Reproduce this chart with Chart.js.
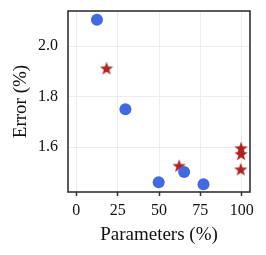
<!DOCTYPE html>
<html>
<head>
<meta charset="utf-8">
<script src="https://cdn.jsdelivr.net/npm/chart.js@4"></script>
<style>
  html, body { margin: 0; padding: 0; background: #fff; }
</style>
</head>
<body>
<canvas id="chart" width="266" height="255"></canvas>
<script>
// values
const circleParams = [12.5, 29.7, 49.8, 65.2, 76.9];
const circleError = [2.104, 1.750, 1.461, 1.501, 1.453];
const starParams = [18.3, 62.2, 99.6, 99.6, 99.4];
const starError = [1.912, 1.526, 1.596, 1.573, 1.512];
const xTicks = [0, 25, 50, 75, 100];
const yTicks = [1.6, 1.8, 2.0];

const toPoints = (xs, ys) => xs.map((x, i) => ({ x: x, y: ys[i] }));

// filled five-point star, chart.js has no such pointStyle
const makeStar = (size, color) => {
    const c = document.createElement('canvas');
    c.width = size;
    c.height = size;
    const g = c.getContext('2d');
    const r = size / 2, ri = r * 0.42;
    g.beginPath();
    for (let i = 0; i < 10; i++) {
        const a = -Math.PI / 2 + i * Math.PI / 5;
        const rr = i % 2 === 0 ? r : ri;
        g.lineTo(r + rr * Math.cos(a), r + 0.6 + rr * Math.sin(a));
    }
    g.closePath();
    g.fillStyle = color;
    g.fill();
    return c;
};

const frame = {
    id: 'frame',
    afterDraw(chart) {
        const a = chart.chartArea, ctx = chart.ctx;
        ctx.save();
        ctx.strokeStyle = '#333';
        ctx.lineWidth = 1.6;
        ctx.strokeRect(a.left, a.top, a.right - a.left, a.bottom - a.top);
        ctx.restore();
    }
};

const font = 'Liberation Serif';

new Chart(document.getElementById('chart').getContext('2d'), {
    type: 'scatter',
    data: {
        datasets: [
            {
                label: 'circle',
                data: toPoints(circleParams, circleError),
                pointStyle: 'circle',
                pointRadius: 6,
                pointHoverRadius: 6,
                backgroundColor: '#4169e1',
                borderWidth: 0
            },
            {
                label: 'star',
                data: toPoints(starParams, starError),
                pointStyle: makeStar(14, '#b22222'),
                pointRadius: 7,
                backgroundColor: '#b22222',
                borderWidth: 0
            }
        ]
    },
    options: {
        responsive: false,
        animation: false,
        events: [],
        layout: { padding: { left: 0, right: 16, top: 11, bottom: 0 } },
        plugins: {
            legend: { display: false },
            tooltip: { enabled: false }
        },
        scales: {
            x: {
                min: -5,
                max: 105,
                afterBuildTicks: (s) => { s.ticks = xTicks.map(v => ({ value: v })); },
                afterFit: (s) => { s.height = 63; },
                ticks: { color: '#111', font: { family: font, size: 16 }, padding: 5 },
                grid: { color: '#ececec', tickColor: '#333', tickLength: 4, tickWidth: 1.5 },
                border: { display: false },
                title: {
                    display: true,
                    text: 'Parameters (%)',
                    color: '#111',
                    font: { family: font, size: 19 },
                    padding: { top: 0, bottom: 9 }
                }
            },
            y: {
                min: 1.422,
                max: 2.139,
                afterBuildTicks: (s) => { s.ticks = yTicks.map(v => ({ value: v })); },
                afterFit: (s) => {
                    s.width = 68;
                    s.paddingTop = 0;
                    s.paddingBottom = 0;
                },
                ticks: {
                    color: '#111',
                    font: { family: font, size: 16 },
                    padding: 10,
                    callback: (v) => v.toFixed(1)
                },
                grid: { color: '#ececec', drawTicks: false },
                border: { display: false },
                title: {
                    display: true,
                    text: 'Error (%)',
                    color: '#111',
                    font: { family: font, size: 19 },
                    padding: { top: 10, bottom: 0 }
                }
            }
        }
    },
    plugins: [frame]
});
</script>
</body>
</html>
